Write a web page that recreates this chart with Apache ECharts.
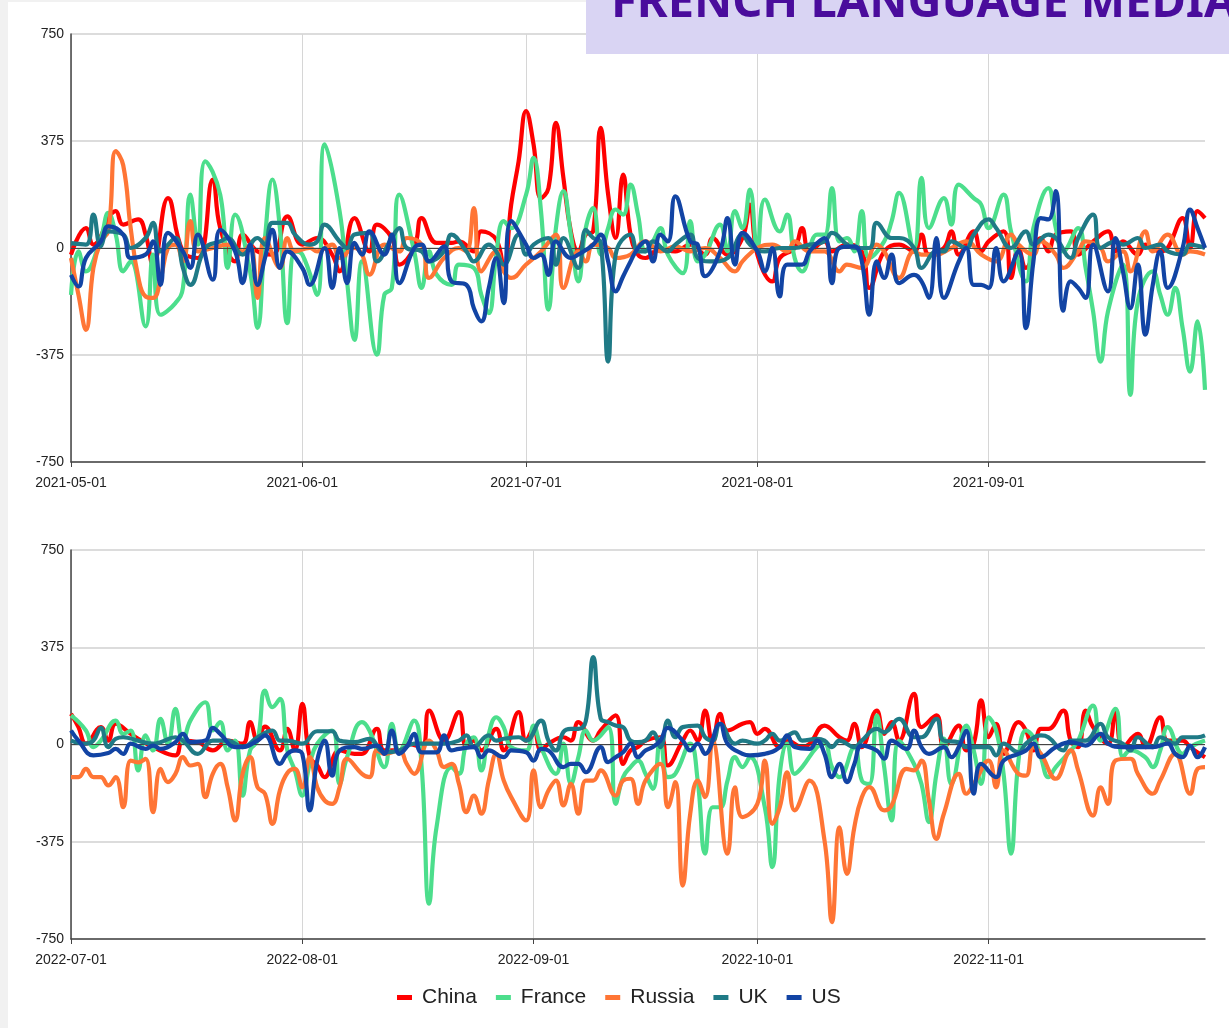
<!DOCTYPE html>
<html><head><meta charset="utf-8">
<script src="https://cdn.jsdelivr.net/npm/echarts@6/dist/echarts.min.js"></script>
<style>
html,body{margin:0;padding:0;background:#f1f1f1;}
#bg{position:absolute;left:8px;top:2px;width:1221px;height:1026px;background:#fff;}
#c{position:absolute;left:0;top:0;width:1229px;height:1028px;}
</style>
</head><body><div id="bg"></div><div id="c"></div>
<script>
// ---- data: [dayOffset, value] pairs; day 0 = start date of each panel ----
const start2021 = [2021, 4, 1];
const start2022 = [2022, 6, 1];
const ticks2021 = [[2021,4,1],[2021,5,1],[2021,6,1],[2021,7,1],[2021,8,1]];
const ticks2022 = [[2022,6,1],[2022,7,1],[2022,8,1],[2022,9,1],[2022,10,1]];
const end2021 = [2021, 8, 30];
const end2022 = [2022, 10, 30];
const seriesNames = ['China','France','Russia','UK','US'];
const yTicks = [-750, -375, 0, 375, 750];

const chinaTop = [[0,-23],[2,70],[3,12],[6,129],[7,82],[9,100],[10,47],[11,-58],[13,175],[15,-12],[17,-35],[19,240],[20,70],[22,-47],[23,47],[25,-12],[27,-23],[29,111],[31,12],[33,35],[35,-23],[36,-82],[38,105],[40,-12],[41,82],[43,35],[44,-58],[46,0],[47,105],[49,18],[51,18],[52,23],[54,-12],[55,58],[57,29],[58,-70],[59,152],[60,304],[61,480],[62,363],[63,175],[64,210],[65,439],[66,246],[67,58],[68,-12],[69,47],[70,60],[71,421],[72,187],[73,35],[74,257],[75,47],[76,-23],[77,-35],[79,0],[81,-12],[83,12],[85,-23],[86,35],[88,-23],[90,35],[91,152],[92,-23],[94,-117],[95,-35],[97,0],[98,70],[99,-12],[101,23],[102,-12],[104,12],[106,-12],[107,-140],[109,-12],[111,12],[113,-12],[114,47],[115,-23],[117,0],[118,58],[119,-23],[121,58],[122,-12],[123,23],[125,58],[126,-105],[127,0],[128,-70],[130,35],[131,-12],[132,47],[134,58],[135,-23],[137,23],[139,58],[140,-12],[141,23],[143,-23],[144,12],[146,-12],[147,0],[149,105],[150,0],[151,129],[152,105]];
const franceTop = [[0,-164],[1,-12],[2,-82],[4,35],[5,123],[6,47],[7,-82],[8,-47],[10,-275],[11,-23],[12,-234],[14,-193],[15,-140],[16,187],[17,12],[18,304],[20,187],[21,-70],[22,117],[24,-82],[25,-280],[26,35],[27,240],[28,70],[29,-263],[30,-12],[31,-23],[33,-164],[34,363],[36,129],[37,-117],[38,-322],[39,-47],[41,-374],[42,-164],[43,-140],[44,187],[46,-12],[47,-140],[48,-12],[49,-93],[51,-129],[52,-58],[54,-70],[55,-164],[56,-228],[57,-23],[58,94],[59,70],[61,187],[62,316],[63,129],[64,-216],[65,70],[66,199],[67,47],[68,-117],[69,70],[70,140],[71,-23],[72,70],[73,135],[74,117],[75,222],[76,117],[77,-12],[78,23],[79,70],[80,-23],[82,-88],[83,94],[84,-47],[85,-23],[87,82],[88,-12],[89,129],[90,70],[91,205],[92,0],[93,170],[95,58],[96,117],[97,-35],[98,-82],[100,47],[101,47],[102,210],[103,23],[104,35],[105,-12],[106,129],[107,-35],[109,23],[110,94],[111,193],[113,0],[114,246],[115,70],[117,175],[118,82],[119,222],[121,175],[122,152],[123,70],[125,187],[126,58],[128,-117],[129,70],[131,210],[132,70],[133,-12],[135,70],[136,-70],[137,-222],[138,-398],[139,-222],[141,-58],[142,-515],[143,-187],[145,-82],[146,-164],[147,-234],[148,-140],[149,-281],[150,-433],[151,-257],[152,-497]];
const russiaTop = [[0,-35],[1,-164],[2,-287],[3,-70],[4,23],[5,60],[6,340],[7,290],[8,70],[9,-100],[10,-170],[11,-175],[12,-110],[13,0],[14,12],[15,-47],[16,94],[17,-12],[19,0],[21,12],[23,-12],[24,12],[25,-175],[26,35],[28,-70],[29,35],[30,-12],[32,0],[33,-12],[35,12],[36,-35],[38,0],[39,-23],[40,-93],[42,12],[44,-12],[45,35],[47,12],[48,-105],[50,-35],[52,0],[53,-12],[54,140],[55,-82],[57,-12],[58,-82],[59,-105],[61,-58],[63,-12],[65,47],[66,-140],[68,-12],[69,-47],[70,12],[72,0],[73,-35],[75,-23],[77,23],[79,-12],[81,6],[83,-12],[85,0],[87,-35],[89,-82],[90,-47],[92,0],[94,12],[96,-12],[97,23],[99,-12],[101,-12],[103,-82],[104,-58],[106,-70],[108,12],[109,-12],[111,-105],[113,-12],[114,-23],[116,-23],[118,0],[120,23],[122,-23],[124,-47],[126,47],[127,12],[129,-23],[130,23],[132,-23],[133,-70],[135,-12],[136,23],[138,0],[139,-47],[141,-12],[142,-82],[144,58],[145,-12],[147,47],[149,-23],[150,-12],[152,-23]];
const ukTop = [[0,17],[2,12],[3,117],[4,6],[5,58],[7,47],[8,0],[10,35],[11,88],[12,-12],[14,35],[15,-70],[16,-129],[18,0],[20,23],[21,35],[23,-23],[25,35],[26,12],[27,88],[29,88],[30,47],[32,12],[33,23],[34,82],[36,23],[37,0],[38,47],[40,53],[41,-47],[43,35],[44,70],[45,0],[47,-12],[48,-47],[50,-12],[51,47],[53,-12],[54,-47],[56,12],[57,-12],[58,-58],[60,47],[61,-23],[62,12],[64,35],[65,-58],[66,35],[68,-70],[69,64],[70,35],[71,20],[72,-398],[73,-23],[75,47],[76,-12],[77,-12],[78,23],[80,-12],[81,12],[83,47],[84,-35],[86,-47],[88,-35],[90,47],[91,12],[93,-12],[95,0],[97,0],[99,12],[101,23],[102,53],[104,12],[105,0],[107,0],[108,88],[110,35],[111,35],[113,0],[114,-70],[116,-12],[117,-12],[118,23],[120,0],[121,47],[123,100],[124,70],[126,0],[128,58],[129,12],[131,47],[132,35],[134,-35],[135,35],[137,117],[138,0],[140,23],[141,12],[143,35],[144,0],[146,12],[147,-12],[149,-23],[150,12],[152,0]];
const usTop = [[0,-94],[1,-135],[2,-35],[4,23],[5,76],[7,47],[8,-35],[10,-23],[11,23],[12,-129],[13,53],[15,-12],[16,-70],[17,47],[19,-111],[20,64],[22,-12],[23,-123],[24,12],[25,-129],[26,-35],[27,64],[28,-70],[29,-12],[31,-70],[32,-129],[34,0],[35,-140],[36,0],[37,-123],[38,18],[39,-23],[40,58],[42,-23],[43,47],[44,-123],[46,0],[47,12],[48,-47],[50,6],[51,-117],[53,-129],[54,-211],[55,-257],[56,-140],[57,-35],[58,-193],[59,94],[61,12],[62,-35],[63,-23],[64,-94],[65,23],[67,-35],[68,-23],[70,12],[71,47],[72,-47],[73,-152],[74,-100],[75,-47],[76,0],[77,23],[78,-47],[79,47],[80,23],[81,181],[83,23],[84,12],[85,-99],[87,-12],[88,105],[89,-58],[90,53],[92,-12],[93,-82],[94,0],[95,-170],[96,-58],[98,-58],[99,-12],[101,35],[102,-123],[103,0],[105,6],[106,-47],[107,-234],[108,-47],[109,-105],[110,-23],[111,-123],[113,-94],[114,-117],[115,-175],[116,35],[117,-175],[119,-47],[120,0],[121,-129],[122,-129],[123,-140],[124,0],[125,-117],[127,-12],[128,-281],[129,-47],[130,105],[131,100],[132,199],[133,-220],[134,-117],[135,-140],[136,-175],[137,12],[139,-152],[140,35],[141,-82],[142,-211],[143,-58],[144,-304],[145,-129],[146,-12],[147,-140],[149,0],[150,135],[151,70],[152,0]];

const chinaBot = [[0,118],[1,67],[2,3],[4,67],[5,15],[6,80],[8,41],[9,22],[11,-10],[14,-42],[15,15],[17,9],[19,-23],[21,15],[23,3],[24,86],[25,15],[26,69],[28,-23],[29,60],[30,-23],[31,157],[32,-49],[33,-80],[34,-126],[36,-23],[38,-36],[39,-36],[41,60],[42,-23],[44,-23],[45,3],[47,-10],[48,131],[50,15],[52,125],[53,-10],[54,15],[55,-23],[57,60],[58,-23],[60,125],[61,15],[62,60],[63,-23],[64,3],[66,28],[67,15],[68,86],[70,15],[71,54],[73,112],[74,-75],[75,-23],[76,-10],[77,15],[79,28],[80,-81],[82,15],[83,54],[84,15],[85,131],[86,3],[87,118],[88,54],[90,80],[91,86],[92,41],[93,60],[95,-10],[96,15],[98,-10],[99,3],[101,73],[103,28],[104,15],[105,80],[106,-10],[108,131],[109,41],[110,86],[111,15],[113,195],[114,67],[116,112],[117,-10],[119,73],[120,-23],[121,3],[122,170],[123,28],[124,80],[125,-36],[127,86],[128,54],[129,-23],[130,60],[131,60],[133,131],[134,15],[135,-10],[136,131],[137,67],[139,3],[140,131],[141,-10],[143,41],[144,-10],[146,105],[147,15],[149,15],[150,-10],[152,-49]];
const franceBot = [[0,112],[2,54],[3,-10],[4,15],[6,92],[7,41],[8,54],[9,-100],[10,35],[11,-23],[12,99],[13,3],[14,137],[15,9],[16,92],[18,163],[19,54],[20,86],[21,-23],[22,15],[23,-197],[24,-23],[25,15],[26,208],[27,144],[28,176],[29,-23],[30,-100],[31,-197],[32,-75],[33,3],[35,54],[36,-152],[37,-49],[39,86],[40,54],[42,-87],[43,80],[44,-23],[46,92],[47,-87],[48,-614],[49,-318],[51,-87],[52,-113],[53,3],[54,28],[55,-100],[56,41],[57,105],[58,67],[59,-10],[61,-23],[62,73],[63,-10],[65,-113],[66,3],[67,-152],[68,-49],[69,54],[70,15],[72,67],[73,-229],[74,-126],[75,-87],[76,-62],[77,-113],[78,-171],[79,23],[80,-126],[81,-113],[83,3],[84,-139],[85,-421],[86,-242],[87,-242],[88,-139],[89,-49],[90,-87],[91,-49],[93,-242],[94,-473],[95,-113],[96,3],[97,-113],[98,-87],[100,-10],[101,3],[102,-87],[103,-126],[105,-10],[106,-139],[107,-152],[108,112],[109,-87],[110,-293],[111,15],[113,-75],[114,-152],[115,-299],[116,-113],[117,23],[118,-152],[120,73],[121,-23],[122,-152],[123,105],[124,54],[125,-113],[126,-421],[127,-62],[128,54],[129,28],[130,-49],[131,-126],[132,-87],[134,-23],[135,15],[137,150],[138,15],[140,137],[141,-49],[142,-23],[144,-49],[145,-87],[146,-23],[147,67],[149,-36],[150,-10],[152,15]];
const russiaBot = [[0,-126],[1,-126],[2,-94],[3,-126],[4,-126],[5,-158],[6,-126],[7,-242],[8,-62],[9,-69],[10,-55],[11,-261],[12,-94],[13,-145],[14,-113],[15,-49],[16,-81],[17,-75],[18,-203],[19,-113],[20,-75],[21,-165],[22,-293],[23,-113],[24,-49],[25,-165],[26,-190],[27,-306],[28,-177],[29,-110],[30,-94],[31,-165],[32,-49],[33,-165],[34,-216],[35,-229],[36,-165],[37,-55],[39,-113],[40,-126],[41,-23],[42,-36],[44,-23],[45,-75],[46,-113],[48,15],[49,-23],[50,-87],[51,-75],[52,-152],[53,-261],[54,-197],[55,-267],[56,-139],[57,-36],[58,-139],[59,-203],[61,-293],[62,-100],[63,-242],[64,-177],[65,-139],[66,-235],[67,-152],[68,-267],[69,-139],[70,-139],[71,-100],[73,-197],[74,-139],[75,-132],[76,-229],[77,-139],[79,-75],[80,-242],[81,-145],[82,-544],[83,-267],[84,-139],[85,-203],[86,15],[88,-421],[89,-165],[90,-280],[92,-229],[93,-62],[94,-306],[95,-242],[96,-107],[97,-254],[99,-139],[101,-370],[102,-685],[103,-319],[104,-499],[105,-319],[106,-203],[107,-164],[109,-254],[110,-235],[112,-94],[113,-100],[114,-62],[115,-216],[116,-364],[117,-267],[119,-113],[120,-190],[121,-152],[123,-62],[124,-165],[125,-23],[127,-113],[128,-120],[129,-10],[130,-36],[132,-132],[134,-23],[135,-100],[137,-274],[138,-165],[139,-229],[140,-62],[142,-55],[143,-113],[145,-190],[146,-139],[148,-36],[150,-190],[151,-94],[152,-87]];
const ukBot = [[0,15],[2,3],[3,15],[4,64],[5,-10],[6,22],[7,28],[9,15],[11,3],[12,9],[14,28],[15,15],[17,-36],[19,15],[21,15],[23,-10],[25,28],[27,54],[28,15],[29,15],[31,3],[33,51],[35,51],[36,15],[38,9],[40,22],[42,-30],[44,-23],[46,3],[48,3],[50,3],[52,15],[53,35],[54,-10],[56,35],[57,15],[58,22],[60,28],[61,15],[63,92],[64,15],[65,-23],[66,48],[67,60],[68,60],[69,90],[70,337],[71,100],[72,86],[73,73],[74,67],[75,15],[76,9],[77,15],[78,47],[79,-10],[80,92],[81,28],[82,67],[84,73],[85,28],[86,15],[87,80],[89,3],[90,15],[92,3],[93,15],[94,41],[95,15],[97,47],[98,15],[100,22],[101,15],[102,-10],[103,15],[105,-10],[106,15],[108,60],[109,47],[111,99],[113,28],[114,28],[116,99],[117,15],[119,9],[120,-10],[121,-10],[123,-10],[124,-42],[125,3],[127,-30],[128,3],[130,35],[131,28],[133,-23],[134,15],[136,15],[138,80],[139,28],[141,3],[142,-23],[143,28],[145,-10],[146,28],[148,3],[149,28],[151,28],[152,35]];
const usBot = [[0,54],[1,15],[3,-42],[5,-33],[6,-17],[7,-36],[8,3],[10,-17],[11,-4],[12,-17],[14,9],[15,41],[16,9],[18,15],[19,64],[20,41],[22,-10],[23,-10],[25,15],[26,35],[28,-75],[29,-36],[30,-23],[31,-36],[32,-254],[33,-62],[34,15],[35,-120],[36,-23],[38,-10],[39,-17],[41,-4],[42,-36],[43,54],[44,-36],[45,-10],[46,41],[47,-30],[49,-30],[50,35],[51,-23],[52,-17],[54,-10],[55,-49],[56,-23],[58,-49],[59,-23],[61,-30],[62,-62],[63,-17],[64,-23],[66,-87],[67,-75],[68,-75],[69,-107],[71,-10],[72,-68],[73,-49],[74,-30],[75,3],[76,-49],[77,-23],[78,-10],[79,15],[80,64],[82,15],[83,-23],[84,3],[85,-36],[87,80],[88,3],[90,-36],[91,-42],[93,-36],[95,-10],[96,35],[97,-10],[99,-17],[100,15],[101,-36],[102,-126],[103,-75],[104,-145],[105,-75],[106,-4],[108,-23],[109,-55],[110,15],[112,-17],[113,54],[114,-10],[115,-36],[117,-10],[118,-49],[119,-10],[120,54],[121,-190],[122,-75],[124,-126],[125,-62],[127,-36],[128,-23],[129,3],[130,-49],[132,-10],[134,9],[136,-4],[138,41],[139,3],[141,-10],[143,-10],[145,-10],[147,3],[148,-36],[149,-49],[150,-4],[151,-49],[152,-10]];

// ---- rendering ----
const DAY = 86400000;
const utc = a => Date.UTC(a[0], a[1], a[2]);
const toTs = (arr, s) => arr.map(p => [utc(s) + p[0] * DAY, p[1]]);
const pad = n => (n < 10 ? '0' : '') + n;
const fmtDate = v => { const d = new Date(v); return d.getUTCFullYear() + '-' + pad(d.getUTCMonth() + 1) + '-' + pad(d.getUTCDate()); };

const colors = {China:'#ff0000', France:'#4cde8c', Russia:'#ff7535', UK:'#1f7a86', US:'#1244a4'};
const panels = [
  {start:start2021, end:end2021, ticks:ticks2021, data:{China:chinaTop, France:franceTop, Russia:russiaTop, UK:ukTop, US:usTop}},
  {start:start2022, end:end2022, ticks:ticks2022, data:{China:chinaBot, France:franceBot, Russia:russiaBot, UK:ukBot, US:usBot}}
];
const FONT = '"Liberation Sans", Arial, sans-serif';

const xAxes = panels.map((p, i) => ({
  type:'value', gridIndex:i, min:utc(p.start), max:utc(p.end), scale:true,
  axisLine:{show:true, onZero:false, lineStyle:{color:'#444', width:1.5}},
  axisTick:{show:true, length:5, customValues:p.ticks.map(utc), lineStyle:{color:'#444', width:1}},
  axisLabel:{customValues:p.ticks.map(utc), formatter:fmtDate, color:'#222', fontSize:14, fontFamily:FONT, margin:14, hideOverlap:false, showMinLabel:true, showMaxLabel:true},
  splitLine:{show:true, lineStyle:{color:'#d6d6d6', width:1}}
}));
const yAxes = panels.map((p, i) => ({
  type:'value', gridIndex:i, min:yTicks[0], max:yTicks[yTicks.length-1], interval:375,
  axisLine:{show:true, lineStyle:{color:'#444', width:1.5}},
  axisTick:{show:false},
  axisLabel:{color:'#222', fontSize:14, fontFamily:FONT, margin:7},
  splitLine:{show:true, lineStyle:{color:'#dcdcdc', width:2}}
}));
const series = [];
panels.forEach((p, i) => {
  seriesNames.forEach((n, k) => {
    const s = {
      name:n, type:'line', xAxisIndex:i, yAxisIndex:i,
      data:toTs(p.data[n], p.start), smooth:0.45, showSymbol:false, symbol:'none',
      lineStyle:{width:4.2, color:colors[n]}, itemStyle:{color:colors[n]},
      emphasis:{disabled:true}, z:2 + k
    };
    if (k === 0) {
      s.markLine = {silent:true, symbol:'none', label:{show:false},
        lineStyle:{color:'#444', width:1, type:'solid'}, data:[{yAxis:0}]};
    }
    series.push(s);
  });
});

const chart = echarts.init(document.getElementById('c'), null, {renderer:'canvas'});
chart.setOption({
  animation:false, backgroundColor:'transparent',
  grid:[{left:71, right:24, top:34, height:428}, {left:71, right:24, top:550, height:389}],
  xAxis:xAxes, yAxis:yAxes, series:series,
  legend:{data:seriesNames, left:392, top:982, icon:'rect', itemWidth:15, itemHeight:5, itemGap:19,
    textStyle:{fontSize:21, color:'#222', fontFamily:FONT, padding:[0,0,0,5]}},
  graphic:[
    {type:'rect', left:586, top:0, shape:{width:643, height:54}, style:{fill:'#d9d4f3'}, z:100},
    {type:'text', x:611, y:4, style:{text:'FRENCH LANGUAGE MEDIA', font:'bold 47px "Noto Sans"', fill:'#4a0c9c', verticalAlign:'middle'}, z:101}
  ]
});
</script></body></html>
